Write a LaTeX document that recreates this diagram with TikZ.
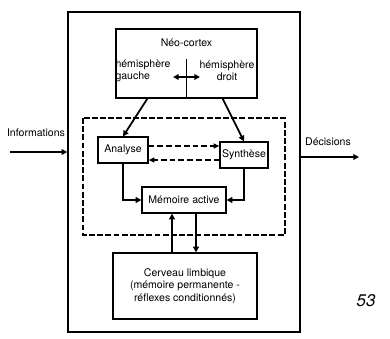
\documentclass[tikz,border=0pt]{standalone}
\usepackage{fontspec}
\setmainfont{TeX Gyre Heros}
\usepackage{tikz}
\usetikzlibrary{arrows.meta}
\usetikzlibrary{positioning}
\tikzset{%
	box/.style={rectangle,draw,line width=1.0,inner sep=0.05cm,align=center},
	arr/.style={arrows={-Triangle[length=0.17cm,width=0.17cm]},line width=1.5},
	darr/.style={arrows={Triangle[length=0.17cm,width=0.17cm]-Triangle[length=0.17cm,width=0.17cm]},line width=1.5},
	dsh/.style={arrows={-Triangle[length=0.17cm,width=0.15cm]},line width=1.3,dash pattern=on 5pt off 2.5pt},
	lbl/.style={inner sep=0.02cm},
}

\begin{document}
\begin{tikzpicture}[x=0.03cm,y=-0.03cm,font=\fontsize{9}{10.5}\selectfont]
	\useasboundingbox (0,0) rectangle (390,339);
	\node (cadre) at (184,172) [rectangle,draw,line width=1.2,minimum width=6.96cm,minimum height=9.6cm] {};
	\draw[line width=0.9,dash pattern=on 5pt off 2pt] (83,118) rectangle (285,235);
	
	\node (neo) at (186.5,63.5) [box,minimum width=4.23cm,minimum height=2.07cm] {};
	\node (neot) at (186.5,43) [lbl] {Néo-cortex};
	\node (gauche) at (143,71) [lbl,align=left] {hémisphère\\gauche};
	\node (droit) at (227,71) [lbl,align=center] {hémisphère\\droit};
	\draw[line width=1.2] (neo.south) -- ++(0,-40);
	\coordinate (hg) at (173,77);
	\coordinate (hd) at (200,77);
	\draw[darr] (hg) -- (hd);
	
	\node (analyse) at (123,150) [box,minimum width=1.5cm,minimum height=0.78cm] {Analyse};
	\node (synthese) at (244,155) [box,minimum width=1.44cm,minimum height=0.78cm] {Synthèse};
	\node (memoire) at (184,200) [box,minimum width=2.52cm,minimum height=0.78cm] {Mémoire active};
	\node (cerveau) at (185,286) [box,minimum width=4.32cm,minimum height=1.98cm] {Cerveau limbique\\(mémoire permanente -\\réflexes conditionnés)};
	
	\draw[arr] (neo.south west) ++(32,0) -- (analyse.north);
	\draw[arr] (neo.south east) ++(-35,0) -- (synthese.north);
	\draw[dsh] (analyse.east |- 0,146) -- (synthese.west |- 0,146);
	\draw[dsh] (synthese.west |- 0,160) -- (analyse.east |- 0,160);
	\draw[arr] (analyse.south) |- (memoire.west);
	\draw[arr] (synthese.south) |- (memoire.east);
	\draw[arr] (cerveau.north -| 172,0) -- (memoire.south -| 172,0);
	\draw[arr] (memoire.south -| 196,0) -- (cerveau.north -| 196,0);
	
	\coordinate (info) at (10,152);
	\node (infot) at (36,133) [lbl] {Informations};
	\draw[arr] (info) -- (cadre.west |- info);
	\coordinate (dec) at (359,157);
	\node (dect) at (328,142) [lbl] {Décisions};
	\draw[arr] (cadre.east |- dec) -- (dec);
	
	\node (page) at (366,301) [lbl,font=\Large\itshape] {53};
\end{tikzpicture}
\end{document}
